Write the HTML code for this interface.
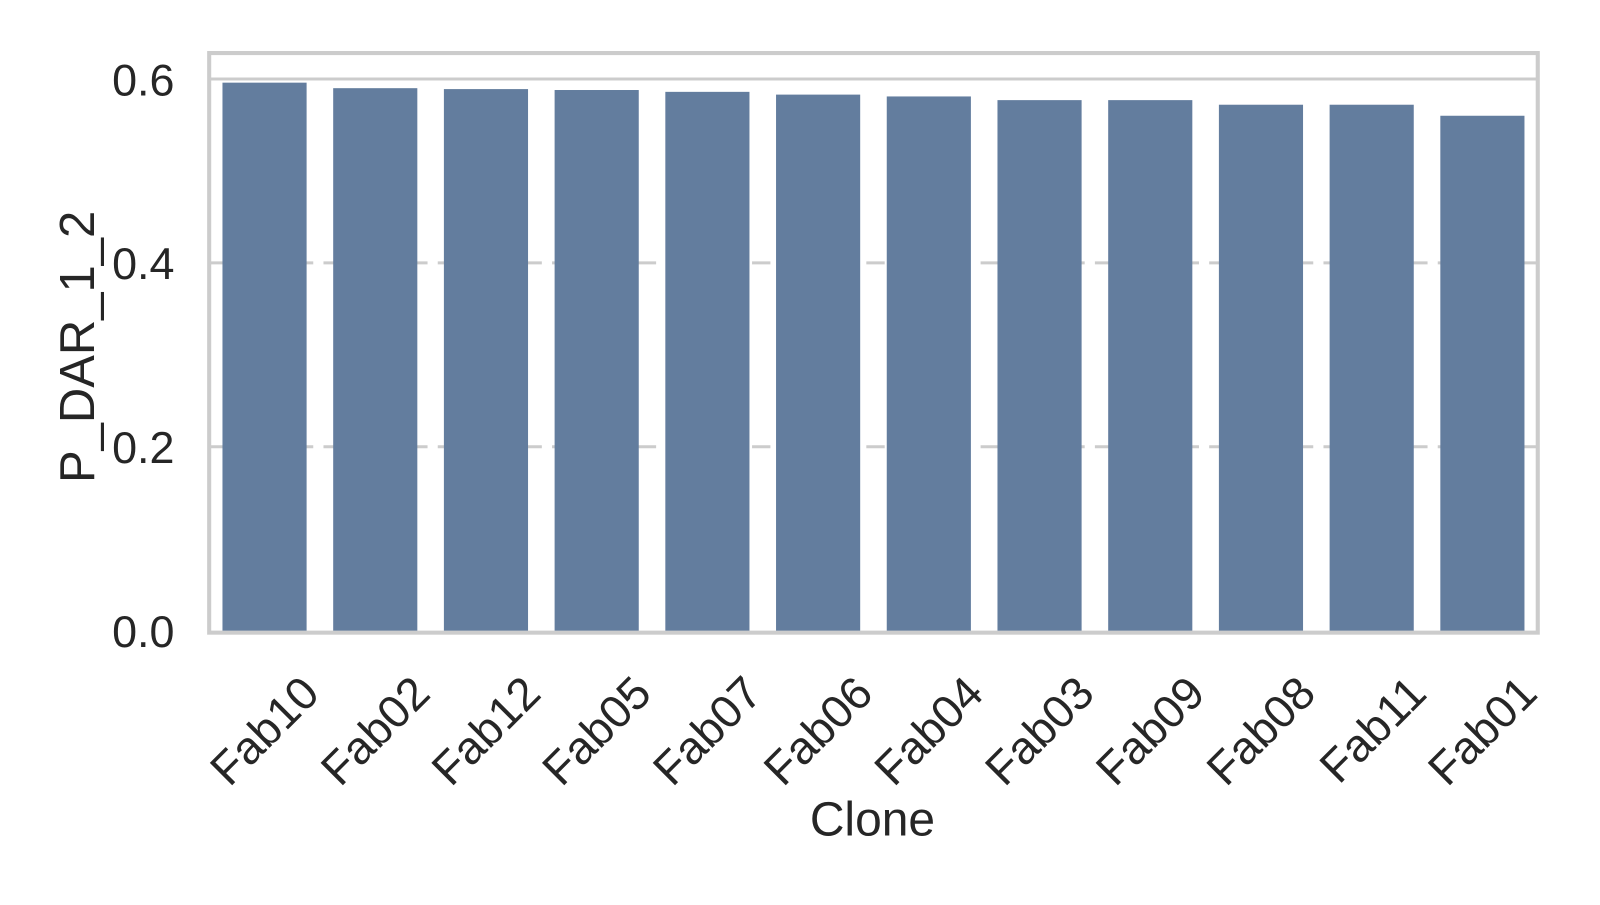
<!DOCTYPE html>
<html><head><meta charset="utf-8"><style>
body{margin:0;background:#fff}
svg text{font-family:"Liberation Sans",Arial,sans-serif;fill:#262626}
</style></head><body>
<svg id="chart" width="1600" height="900" viewBox="0 0 1568 882" xmlns="http://www.w3.org/2000/svg">
<g id="grid"></g>
<g id="bars"></g>
<g id="yticks"></g>
<g id="xticks"></g>
<rect x="205" y="52" width="1302" height="568" fill="none" stroke="#cccccc" stroke-width="4"/>
<text x="855" y="819" font-size="47" text-anchor="middle">Clone</text>
<text transform="translate(92,340) rotate(-90)" font-size="48" text-anchor="middle">P_DAR_1_2</text>
</svg>
<script>
const categories=["Fab10","Fab02","Fab12","Fab05","Fab07","Fab06","Fab04","Fab03","Fab09","Fab08","Fab11","Fab01"];
const values=[0.596,0.590,0.589,0.588,0.586,0.583,0.581,0.577,0.577,0.572,0.572,0.560];
const yTicks=[0.0,0.2,0.4,0.6];
const yTickLabels=["0.0","0.2","0.4","0.6"];
const NS="http://www.w3.org/2000/svg";
const L=205,R=1507,Y0=618,K=901;
const y=v=>Y0-v*K;
const band=(R-L)/categories.length;
const x=i=>L+band*i+band/2;
function mk(t,a,p){const e=document.createElementNS(NS,t);for(const k in a)e.setAttribute(k,a[k]);p.appendChild(e);return e;}
const g=document.getElementById('grid'),b=document.getElementById('bars'),yt=document.getElementById('yticks'),xt=document.getElementById('xticks');
yTicks.forEach((v,i)=>{
  if(v>0){const l=mk('line',{x1:L,x2:R,y1:y(v),y2:y(v),stroke:'#cccccc','stroke-width':3,'stroke-dasharray':v>=0.6?'none':'18 10'},g);
  
  }
  const t=mk('text',{x:171,y:y(v)+16,'font-size':44,'text-anchor':'end'},yt);t.textContent=yTickLabels[i];
  
  
});
categories.forEach((c,i)=>{
  const w=band*0.76;
  const r=mk('rect',{x:x(i)-w/2,y:y(values[i]),width:w,height:Y0-y(values[i])+1,fill:'#637d9e'},b);
  
  
  const t=mk('text',{transform:`translate(${x(i)+32},${658}) rotate(-45)`,'font-size':45,'text-anchor':'end',dy:'0.75em'},xt);
  t.textContent=c;
  
  
});
</script>
</body></html>
